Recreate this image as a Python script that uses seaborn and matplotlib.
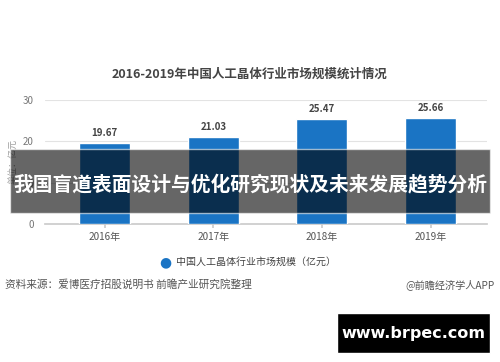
import pandas as pd
import matplotlib.pyplot as plt
import seaborn as sns
from matplotlib.patches import Rectangle

# 数据
years = ['2016年', '2017年', '2018年', '2019年']
market_size = [19.67, 21.03, 25.47, 25.66]
y_ticks = [0, 10, 20, 30]

df = pd.DataFrame({'year': years, 'size': market_size})

sns.set_theme(style='white')
plt.rcParams['font.family'] = ['Noto Sans CJK SC', 'DejaVu Sans']
plt.rcParams['axes.unicode_minus'] = False

bar_color = '#1a74c4'

fig = plt.figure(figsize=(5, 3.62), dpi=100)
ax = fig.add_axes([0.09, 0.381, 0.884, 0.343])

sns.barplot(data=df, x='year', y='size', color=bar_color, width=0.47,
            saturation=1, ax=ax, zorder=3)

ax.set_xlim(-0.55, 3.52)
ax.set_ylim(0, 30)
ax.set_yticks(y_ticks)
ax.yaxis.grid(True, color='#e3e3e3', linewidth=0.8, zorder=0)
ax.set_axisbelow(True)
for s in ['top', 'right', 'left']:
    ax.spines[s].set_visible(False)
ax.spines['bottom'].set_color('#cccccc')
ax.tick_params(axis='y', length=0, labelsize=7, labelcolor='#777777', pad=8)
ax.tick_params(axis='x', length=3, color='#cccccc', labelsize=7.2, labelcolor='#555555',
               bottom=True, pad=3)
ax.set_xlabel('')
ax.set_ylabel('单位：亿元', fontsize=6.5, color='#999999', labelpad=4)

# 数值标签
for i, v in enumerate(market_size):
    ax.text(i, v + 1.2, f'{v:.2f}', ha='center', va='bottom', fontsize=7,
            fontweight='bold', color='#444444')

# 标题
fig.text(0.5, 0.795, '2016-2019年中国人工晶体行业市场规模统计情况', ha='center', va='center',
         fontsize=9, fontweight='bold', color='#444444')

# 图例
fig.text(0.33, 0.276, '●', ha='center', va='center', fontsize=10, color=bar_color,
         family=['DejaVu Sans'])
fig.text(0.352, 0.276, '中国人工晶体行业市场规模（亿元）', ha='left', va='center',
         fontsize=7.2, color='#444444')

# 来源
fig.text(0.01, 0.213, '资料来源：爱博医疗招股说明书 前瞻产业研究院整理', ha='left', va='center',
         fontsize=7.7, color='#555555')
fig.text(0.99, 0.213, '@前瞻经济学人APP', ha='right', va='center',
         fontsize=7.3, color='#555555')

# 横幅
fig.patches.append(Rectangle((0.02, 0.412), 0.96, 0.176, transform=fig.transFigure,
                             facecolor='black', alpha=0.6, zorder=10))
fig.text(0.5, 0.49, '我国盲道表面设计与优化研究现状及未来发展趋势分析', ha='center', va='center',
         fontsize=14.2, fontweight='bold', color='white', zorder=11)

# 网址框
fig.patches.append(Rectangle((0.674, 0.025), 0.306, 0.11, transform=fig.transFigure,
                             facecolor='black', zorder=10))
fig.text(0.827, 0.08, 'www.brpec.com', ha='center', va='center', fontsize=11.5,
         fontweight='bold', color='white', family=['DejaVu Sans'], zorder=11)

fig.savefig('out.png', dpi=100)
